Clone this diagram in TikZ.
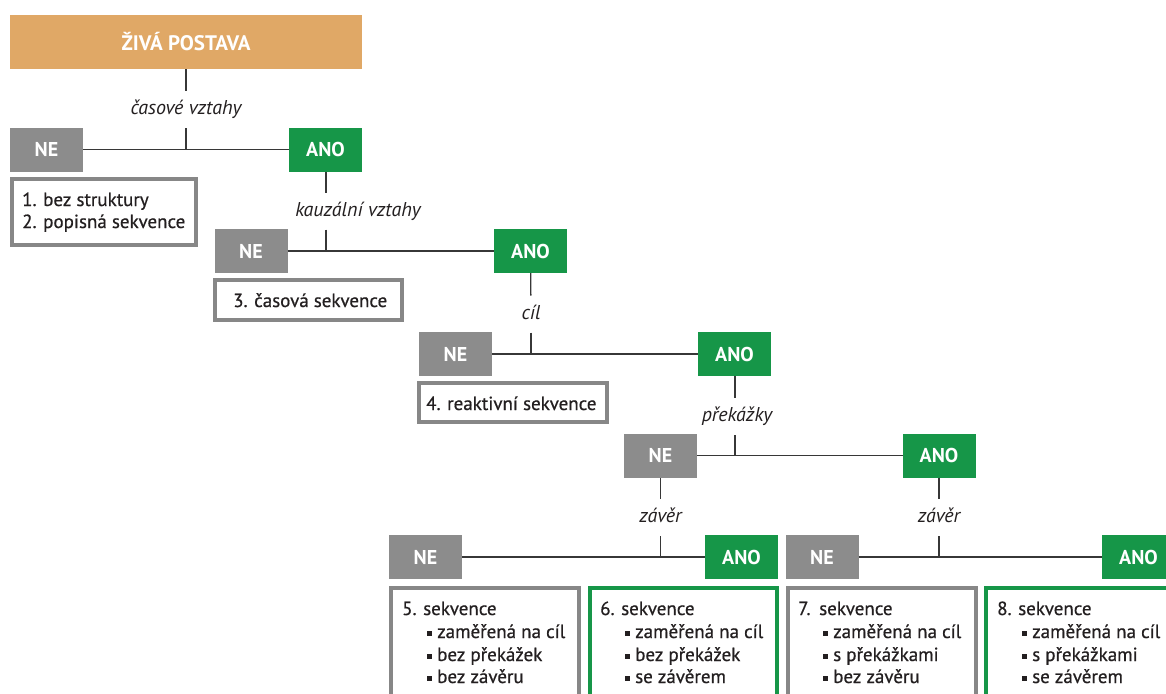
\documentclass[tikz,border=0pt]{standalone}
\usepackage{fontspec}
\setmainfont{PT Sans}
\newfontfamily\semifont{PT Sans}[FakeBold=0.6]
\definecolor{tanfill}{RGB}{224,168,102}
\definecolor{grayfill}{RGB}{140,140,140}
\definecolor{greenfill}{RGB}{22,150,72}
\definecolor{boxgray}{RGB}{135,135,135}
\definecolor{linec}{RGB}{55,55,55}
\definecolor{textc}{RGB}{35,31,32}
\newcommand{\bul}{\rule[2.5pt]{4.5pt}{4.5pt}\hspace{5.5pt}}
\newcommand{\num}[1]{\makebox[21pt][l]{#1}}
\begin{document}
\begin{tikzpicture}[x=1pt,y=-1pt,
  nebox/.style={fill=grayfill, text=white, font=\bfseries\fontsize{20}{22}\selectfont,
    minimum width=73pt, minimum height=44pt, inner sep=0pt, outer sep=0pt},
  anobox/.style={nebox, fill=greenfill},
  lab/.style={font=\itshape\fontsize{20}{22}\selectfont, text=textc, text height=14pt, text depth=4pt,
    inner xsep=2pt, inner ysep=9.5pt, outer sep=0pt},
  lst/.style={draw=boxgray, line width=4pt, fill=white, inner sep=0pt, outer sep=0pt},
  lstg/.style={lst, draw=greenfill},
  txt/.style={anchor=base west, inner sep=0pt, text=textc, font=\semifont\fontsize{19}{21}\selectfont},
  conn/.style={draw=linec, line width=1.3pt}]
\useasboundingbox (0,0) rectangle (1166,693);
\clip (0,0) rectangle (1166,693);

% level 0
\node[fill=tanfill, text=white, font=\bfseries\fontsize{21}{23}\selectfont,
  minimum width=352pt, minimum height=54pt, inner sep=0pt, outer sep=0pt] (top) at (186,42) {ŽIVÁ POSTAVA};
\node[lab] (l1) at (186,109.5) {časové vztahy};
\node[nebox] (ne1) at (46.5,149.5) {NE};
\node[anobox] (ano1) at (325.5,149.5) {ANO};
\coordinate (j1) at (186,149.5);
\draw[conn] (top) -- (l1);
\draw[conn] (l1) -- (j1);
\draw[conn] (ne1) -- (ano1);
\node[lst, minimum width=184pt, minimum height=66pt] (b1) at (104,212) {};
\node[txt] (t1a) at (22,206) {\num{1.}bez struktury};
\node[txt] (t1b) at (22,228) {\num{2.}popisná sekvence};

% level 1
\node[lab] (l2) at (358,211) {kauzální vztahy};
\node[nebox] (ne2) at (251,251) {NE};
\node[anobox] (ano2) at (530.5,251) {ANO};
\coordinate (j2) at (326,251);
\draw[conn] (ano1.south -| j2) -- (j2 |- l2.north);
\draw[conn] (j2 |- l2.south) -- (j2);
\draw[conn] (ne2) -- (ano2);
\node[lst, minimum width=187pt, minimum height=40pt] (b3) at (308.5,300) {};
\node[txt] (t3) at (233,307) {\num{3.}časová sekvence};

% level 2
\node[lab] (l3) at (531,314) {cíl};
\node[nebox] (ne3) at (455.5,354) {NE};
\node[anobox] (ano3) at (734.5,354) {ANO};
\coordinate (j3) at (531,354);
\draw[conn] (ano2) -- (l3);
\draw[conn] (l3) -- (j3);
\draw[conn] (ne3) -- (ano3);
\node[lst, minimum width=188pt, minimum height=39pt] (b4) at (513,402.5) {};
\node[txt] (t4) at (426,410) {\num{4.}reaktivní sekvence};

% level 3
\node[lab] (l4) at (737,416.5) {překážky};
\node[nebox] (ne4) at (660.5,455.5) {NE};
\node[anobox] (ano4) at (939,455.5) {ANO};
\coordinate (j4) at (735,455.5);
\draw[conn] (ano3.south -| j4) -- (j4 |- l4.north);
\draw[conn] (j4 |- l4.south) -- (j4);
\draw[conn] (ne4) -- (ano4);

% level 4 left
\node[lab] (l5) at (660.5,517.5) {závěr};
\node[nebox] (ne5) at (425.5,557) {NE};
\node[anobox] (ano5) at (741.5,557) {ANO};
\coordinate (j5) at (660.5,557);
\draw[conn] (ne4) -- (l5);
\draw[conn] (l5) -- (j5);
\draw[conn] (ne5) -- (ano5);

% level 4 right
\node[lab] (l6) at (939,517.5) {závěr};
\node[nebox] (ne6) at (822,557) {NE};
\node[anobox] (ano6) at (1138.5,557) {ANO};
\coordinate (j6) at (939,557);
\draw[conn] (ano4) -- (l6);
\draw[conn] (l6) -- (j6);
\draw[conn] (ne6) -- (ano6);

% bottom boxes
\node[lst, minimum width=188pt, minimum height=116pt] (b5) at (485,646) {};
\node[lstg, minimum width=187pt, minimum height=116pt] (b6) at (683.5,646) {};
\node[lst, minimum width=188pt, minimum height=116pt] (b7) at (882,646) {};
\node[lstg, minimum width=188pt, minimum height=116pt] (b8) at (1080,646) {};

\node[txt] (t5a) at (402,615) {\num{5.}sekvence};
\node[txt] (t5b) at (427,638) {\bul zaměřená na cíl};
\node[txt] (t5c) at (427,661) {\bul bez překážek};
\node[txt] (t5d) at (427,683) {\bul bez závěru};

\node[txt] (t6a) at (600,615) {\num{6.}sekvence};
\node[txt] (t6b) at (625,638) {\bul zaměřená na cíl};
\node[txt] (t6c) at (625,661) {\bul bez překážek};
\node[txt] (t6d) at (625,683) {\bul se závěrem};

\node[txt] (t7a) at (798,615) {\num{7.}sekvence};
\node[txt] (t7b) at (823,638) {\bul zaměřená na cíl};
\node[txt] (t7c) at (823,661) {\bul s překážkami};
\node[txt] (t7d) at (823,683) {\bul bez závěru};

\node[txt] (t8a) at (997,615) {\num{8.}sekvence};
\node[txt] (t8b) at (1022,638) {\bul zaměřená na cíl};
\node[txt] (t8c) at (1022,661) {\bul s překážkami};
\node[txt] (t8d) at (1022,683) {\bul se závěrem};
\end{tikzpicture}
\end{document}
